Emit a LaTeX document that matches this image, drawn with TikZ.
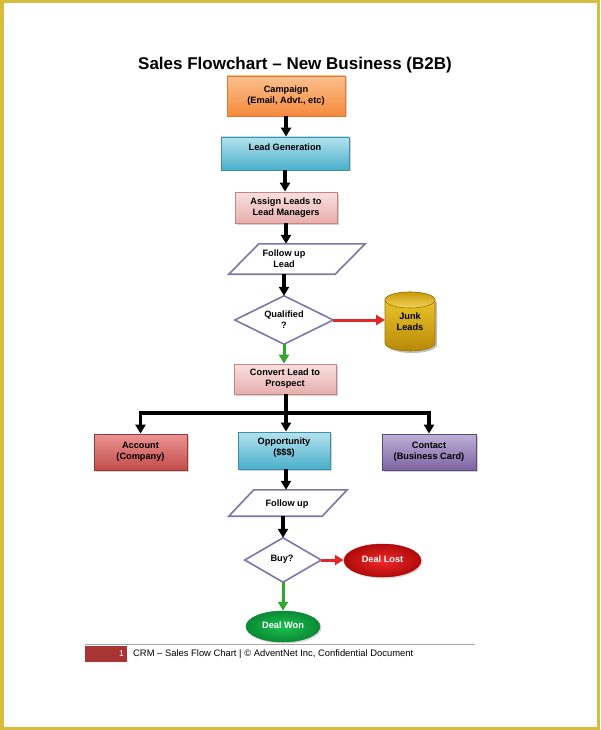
\documentclass[tikz,border=0pt]{standalone}
\usepackage{fontspec}
\setmainfont{Liberation Sans}
\usetikzlibrary{arrows.meta,shadows,shapes.geometric,calc}
\definecolor{frameY}{HTML}{D8BC3E}
\definecolor{orT}{HTML}{FCC08E}\definecolor{orB}{HTML}{F58A3C}\definecolor{orD}{HTML}{D9792F}
\definecolor{blT}{HTML}{B5E2EE}\definecolor{blB}{HTML}{4AAFCB}\definecolor{blD}{HTML}{3B8FA8}
\definecolor{pkT}{HTML}{FAE0E0}\definecolor{pkB}{HTML}{E8AEAE}\definecolor{pkD}{HTML}{C98282}
\definecolor{rdT}{HTML}{EC9391}\definecolor{rdB}{HTML}{C24E4B}\definecolor{rdD}{HTML}{963936}
\definecolor{puT}{HTML}{BEB0D6}\definecolor{puB}{HTML}{7D64A3}\definecolor{puD}{HTML}{5C4880}
\definecolor{dmD}{HTML}{7D76A6}
\definecolor{arRed}{HTML}{E02828}\definecolor{arGreen}{HTML}{2FA82F}
\definecolor{ftRed}{HTML}{A83434}
\definecolor{gdTop}{HTML}{C89A08}\definecolor{gdTopL}{HTML}{F2D458}
\definecolor{gdBodyT}{HTML}{F2CC30}\definecolor{gdBodyB}{HTML}{B88A08}\definecolor{gdD}{HTML}{9A7608}
\definecolor{lostIn}{HTML}{F22A2A}\definecolor{lostOut}{HTML}{B00A0A}
\definecolor{wonIn}{HTML}{1CC050}\definecolor{wonOut}{HTML}{0A8A34}
\tikzset{
  box/.style={draw, line width=0.8pt, inner sep=0pt, align=center,
    font=\fontsize{9.2}{10.8}\selectfont\bfseries,
    drop shadow={shadow xshift=1.5pt,shadow yshift=-1.5pt,opacity=0.35}},
  orbox/.style={box, top color=orT, bottom color=orB, draw=orD},
  blbox/.style={box, top color=blT, bottom color=blB, draw=blD},
  pkbox/.style={box, top color=pkT, bottom color=pkB, draw=pkD},
  rdbox/.style={box, top color=rdT, bottom color=rdB, draw=rdD},
  pubox/.style={box, top color=puT, bottom color=puB, draw=puD},
  txt/.style={inner sep=0pt, align=center, font=\fontsize{9.2}{10.8}\selectfont\bfseries},
  ghost/.style={inner sep=0pt, align=center},
  shapeline/.style={draw=dmD, line width=1.6pt, fill=white},
  oval/.style={ellipse, line width=0.5pt, text=white, font=\fontsize{9.2}{10.8}\selectfont\bfseries,
    drop shadow={shadow xshift=1.5pt,shadow yshift=-1.5pt,opacity=0.3}},
  flow/.style={line width=3.2pt, -{Triangle[length=9pt,width=10pt]}},
  redflow/.style={flow, draw=arRed, line width=3pt, -{Triangle[length=9pt,width=10pt,fill=arRed]}},
  greenflow/.style={flow, draw=arGreen, line width=3pt, -{Triangle[length=9pt,width=10pt,fill=arGreen]}},
}
\begin{document}
\begin{tikzpicture}[x=1pt,y=-1pt]
\useasboundingbox (0,0) rectangle (600,730);
\fill[white] (0,0) rectangle (600,730);
\draw[frameY, line width=3.5pt] (1.75,1.75) rectangle (598.25,728.25);

% title
\node[font=\fontsize{17}{20}\selectfont\bfseries] (title) at (295,65) {Sales Flowchart -- New Business (B2B)};

% boxes
\node[orbox, minimum width=118pt, minimum height=40pt] (camp) at (286,96) {Campaign\\(Email, Advt., etc)};
\node[blbox, minimum width=128pt, minimum height=33pt] (lead) at (285,153.5) {};
\node[txt] (leadt) at (285,147) {Lead Generation};
\node[pkbox, minimum width=102pt, minimum height=31pt] (assign) at (286,207.5) {Assign Leads to\\Lead Managers};

% follow up lead parallelogram
\node[ghost, minimum width=108pt, minimum height=30pt] (fup) at (297,259) {};
\draw[shapeline] ($(fup.south west)+(-14,0)$) -- ($(fup.north west)+(16,0)$) -- ($(fup.north east)+(14,0)$) -- ($(fup.south east)+(-16,0)$) -- cycle;
\node[txt] (fupt) at (284,259) {Follow up\\Lead};

% qualified diamond
\node[ghost, minimum width=98pt, minimum height=48pt] (qual) at (284,320) {};
\draw[shapeline] (qual.north) -- (qual.east) -- (qual.south) -- (qual.west) -- cycle;
\node[txt] (qualt) at (284,320) {Qualified\\?};

% junk leads cylinder
\coordinate (jc) at (410,300);
\fill[black, opacity=0.25] (387,302) -- (387,345) arc[start angle=180,end angle=0,x radius=25,y radius=8] -- (437,302) -- cycle;
\shade[top color=gdBodyT, bottom color=gdBodyB, draw=gdD, line width=0.6pt]
  (385,300) -- (385,343) arc[start angle=180,end angle=0,x radius=25,y radius=8] -- (435,300) arc[start angle=0,end angle=-180,x radius=25,y radius=8] -- cycle;
\shade[top color=gdTop, bottom color=gdTopL, draw=gdD, line width=0.6pt] (jc) ellipse[x radius=25, y radius=8];
\node[txt, minimum width=50pt, minimum height=44pt] (junk) at (410,322) {Junk\\Leads};
\coordinate (junkw) at (385,320);

% convert
\node[pkbox, minimum width=102pt, minimum height=30pt] (conv) at (285,379) {Convert Lead to\\Prospect};
\coordinate (split) at (286,413);

\node[rdbox, minimum width=93pt, minimum height=36pt] (acc) at (140.5,452) {Account\\(Company)};
\node[blbox, minimum width=92pt, minimum height=37pt] (opp) at (284,450.5) {};
\node[txt] (oppt) at (284,448) {Opportunity\\(\$\$\$)};
\node[pubox, minimum width=94pt, minimum height=36pt] (cont) at (429,452) {Contact\\(Business Card)};

% follow up parallelogram
\node[ghost, minimum width=94pt, minimum height=26pt] (fu2) at (288,503) {};
\draw[shapeline] ($(fu2.south west)+(-12,0)$) -- ($(fu2.north west)+(13,0)$) -- ($(fu2.north east)+(12,0)$) -- ($(fu2.south east)+(-13,0)$) -- cycle;
\node[txt] (fu2t) at (287,504) {Follow up};

% buy diamond
\node[ghost, minimum width=76pt, minimum height=44pt] (buy) at (283,560) {};
\draw[shapeline] (buy.north) -- (buy.east) -- (buy.south) -- (buy.west) -- cycle;
\node[txt] (buyt) at (282,559) {Buy?};

% ellipses
\node[oval, minimum width=77pt, minimum height=33pt, inner color=lostIn, outer color=lostOut, draw=lostOut] (lost) at (382.5,560.5) {\raisebox{3pt}{Deal Lost}};
\node[oval, minimum width=74pt, minimum height=31pt, inner color=wonIn, outer color=wonOut, draw=wonOut] (won) at (283,626.5) {\raisebox{2pt}{Deal Won}};

% connectors
\draw[flow] (camp.south) -- (camp.south |- lead.north);
\draw[flow] (lead.south) -- (lead.south |- assign.north);
\draw[flow] (assign.south) -- (assign.south |- fup.north);
\draw[flow] (qual.north |- fup.south) -- (qual.north);
\draw[redflow] (qual.east) -- (junkw);
\draw[greenflow] (qual.south) -- (qual.south |- conv.north);
\draw[line width=3.2pt] (conv.south -| split) -- (split);
\draw[line width=3.2pt] (acc.north |- split) -- (cont.north |- split);
\draw[flow] (split) -| (acc.north);
\draw[flow] (split) -- (split |- opp.north);
\draw[flow] (split) -| (cont.north);
\draw[flow] (opp.south -| split) -- (split |- fu2.north);
\draw[flow] (buy.north |- fu2.south) -- (buy.north);
\draw[redflow] (buy.east) -- (buy.east -| lost.west);
\draw[greenflow] (buy.south) -- (won.north);

% footer
\draw[gray!70, line width=0.8pt] (85,644) -- (475,644);
\node[fill=ftRed, minimum width=42pt, minimum height=16pt, inner sep=0pt] (pg) at (106,654) {};
\node[text=white, font=\fontsize{8.5}{9}\selectfont, anchor=east, inner sep=0pt] (pgn) at (124,654) {1};
\node[font=\fontsize{9.4}{10}\selectfont, anchor=west, inner sep=0pt] (foot) at (133,654) {CRM -- Sales Flow Chart | © AdventNet Inc, Confidential Document};
\end{tikzpicture}
\end{document}
